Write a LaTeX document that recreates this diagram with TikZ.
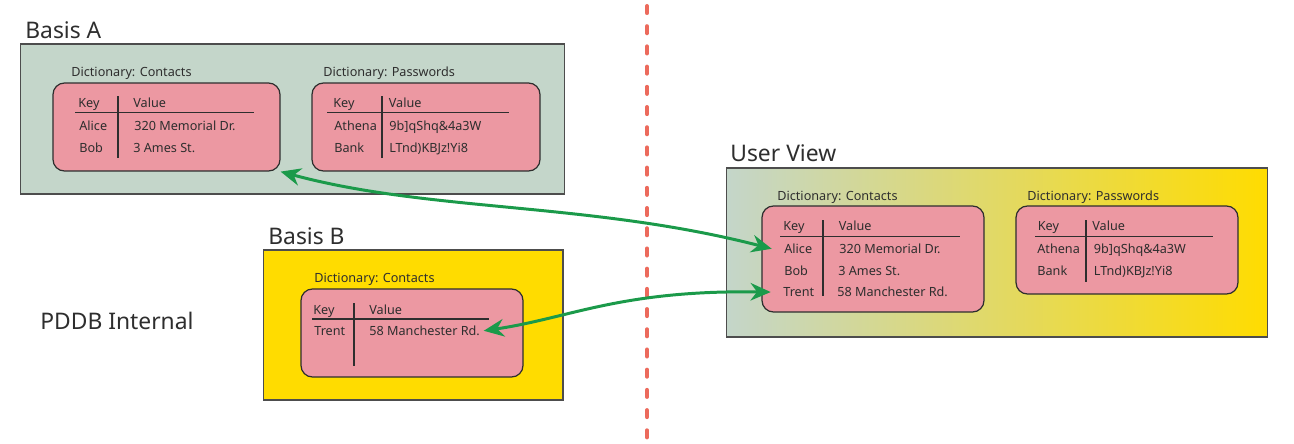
\documentclass[tikz,border=0pt]{standalone}
\usepackage{fontspec}
\setmainfont{Noto Sans}
\usetikzlibrary{arrows.meta}

\definecolor{sage}{HTML}{C4D6CA}
\definecolor{basisyellow}{HTML}{FFDC00}
\definecolor{dictpink}{HTML}{EC98A2}
\definecolor{linkgreen}{HTML}{1B9A4A}
\definecolor{splitred}{HTML}{EC6A5C}
\definecolor{ink}{HTML}{2E2E2E}

\tikzset{
  basis/.style={draw=ink!85, line width=0.6pt},
  dict/.style={draw=ink, line width=0.7pt, fill=dictpink, rounded corners=6.5pt},
  title/.style={anchor=base west, inner sep=0pt, text=ink, font=\fontsize{13}{15}\selectfont},
  cell/.style={anchor=base west, inner sep=0pt, text=ink, font=\fontsize{7.2}{8.5}\selectfont},
  rule/.style={draw=ink, line width=0.75pt},
  link/.style={draw=linkgreen, line width=1.7pt, {Stealth[length=11.5pt,width=10pt]}-{Stealth[length=11.5pt,width=10pt]}},
}

\begin{document}
\begin{tikzpicture}[x=0.02cm, y=-0.02cm]
\useasboundingbox (0,0) rectangle (1294,443);

\node[basis, fill=sage, minimum width=10.9cm, minimum height=3cm] (basisA) at (292.5,119) {};
\node[basis, fill=basisyellow, minimum width=6cm, minimum height=3cm] (basisB) at (413,325) {};
\node[basis, left color=sage, right color=basisyellow, minimum width=10.84cm, minimum height=3.38cm] (userView) at (997,252.5) {};

\node[title] (basisAtitle) at (25,38) {Basis A};
\node[title] (basisBtitle) at (268,244) {Basis B};
\node[title] (userViewtitle) at (730,161) {User View};
\node[title] (internal) at (40,329) {PDDB Internal};

\node[dict, minimum width=4.54cm, minimum height=1.76cm] (ctA) at (166.5,127) {};
\node[dict, minimum width=4.56cm, minimum height=1.76cm] (pwA) at (426,127) {};
\node[dict, minimum width=4.44cm, minimum height=1.76cm] (ctB) at (412,333) {};
\node[dict, minimum width=4.44cm, minimum height=2.12cm] (ctU) at (873,259) {};
\node[dict, minimum width=4.44cm, minimum height=1.76cm] (pwU) at (1127,250) {};

\node[cell] (ctAlabel) at (71,76.5) {Dictionary: Contacts};
\node[cell] (ctAkey) at (78,107.5) {Key};
\node[cell] (ctAval) at (133,107.5) {Value};
\node[cell] (ctAalice) at (79,130) {Alice};
\node[cell] (ctAaliceval) at (134,130) {320 Memorial Dr.};
\node[cell] (ctAbob) at (79,152) {Bob};
\node[cell] (ctAbobval) at (133,152) {3 Ames St.};

\node[cell] (pwAlabel) at (323,76.5) {Dictionary: Passwords};
\node[cell] (pwAkey) at (333,107.5) {Key};
\node[cell] (pwAval) at (388.5,107.5) {Value};
\node[cell] (pwAathena) at (334,130) {Athena};
\node[cell] (pwAathenaval) at (389,130) {9b]qShq\&4a3W};
\node[cell] (pwAbank) at (334,152) {Bank};
\node[cell] (pwAbankval) at (389,152) {LTnd)KBJz!Yi8};

\node[cell] (ctBlabel) at (314,282.5) {Dictionary: Contacts};
\node[cell] (ctBkey) at (313,314.5) {Key};
\node[cell] (ctBval) at (369,314.5) {Value};
\node[cell] (ctBtrent) at (314,335.5) {Trent};
\node[cell] (ctBtrentval) at (369,335.5) {58 Manchester Rd.};

\node[cell] (ctUlabel) at (777,200.5) {Dictionary: Contacts};
\node[cell] (ctUkey) at (783,230.5) {Key};
\node[cell] (ctUval) at (838.5,230.5) {Value};
\node[cell] (ctUalice) at (784,253.5) {Alice};
\node[cell] (ctUaliceval) at (839,253.5) {320 Memorial Dr.};
\node[cell] (ctUbob) at (784,275.5) {Bob};
\node[cell] (ctUbobval) at (838,275.5) {3 Ames St.};
\node[cell] (ctUtrent) at (783,296.5) {Trent};
\node[cell] (ctUtrentval) at (837,296.5) {58 Manchester Rd.};

\node[cell] (pwUlabel) at (1027,200.5) {Dictionary: Passwords};
\node[cell] (pwUkey) at (1037.5,230.5) {Key};
\node[cell] (pwUval) at (1092,230.5) {Value};
\node[cell] (pwUathena) at (1037,253.5) {Athena};
\node[cell] (pwUathenaval) at (1093.5,253.5) {9b]qShq\&4a3W};
\node[cell] (pwUbank) at (1037,275.5) {Bank};
\node[cell] (pwUbankval) at (1093.5,275.5) {LTnd)KBJz!Yi8};

\draw[rule] (75,112.5) -- (254,112.5);
\draw[rule] (118,96) -- (118,158);
\draw[rule] (327,112.5) -- (509,112.5);
\draw[rule] (382,96) -- (382,158);
\draw[rule] (312,319) -- (489,319);
\draw[rule] (354,303) -- (354,366);
\draw[rule] (780,236.5) -- (960,236.5);
\draw[rule] (823,220) -- (823,296);
\draw[rule] (1035,236.5) -- (1213,236.5);
\draw[rule] (1086,220) -- (1086,282);

\coordinate (splitTop) at (647,6);
\coordinate (splitBottom) at (647,440);
\draw[splitred, line width=2.3pt, line cap=round, dash pattern=on 4pt off 7.5pt] (splitTop) -- (splitBottom);

\draw[link] (ctA.south east) .. controls (430,212) and (590,202) .. ([xshift=-7pt]ctUalice.west);
\draw[link] ([xshift=2pt]ctBtrentval.east) .. controls (570,318) and (620,290) .. ([xshift=-7pt]ctUtrent.west);

\end{tikzpicture}
\end{document}
